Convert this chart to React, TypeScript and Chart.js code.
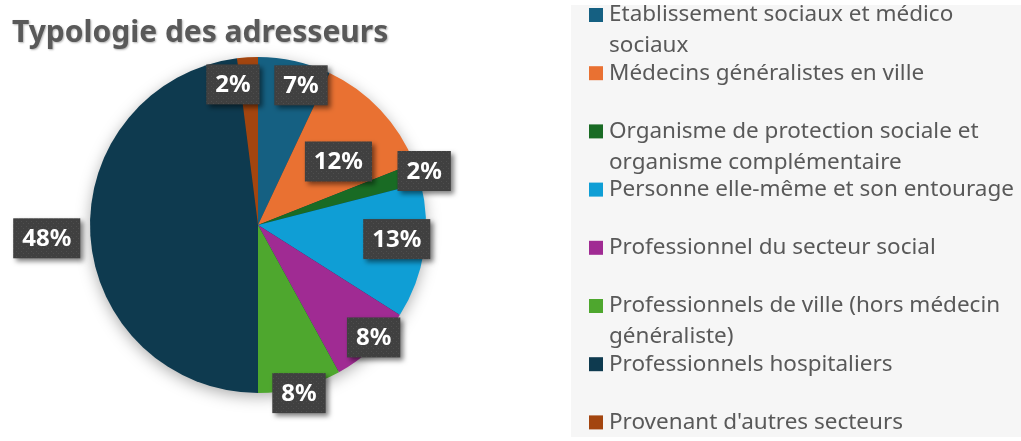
import React, { useEffect, useRef } from "react";
import { Chart, registerables } from "chart.js";

Chart.register(...registerables);

const titleText = "Typologie des adresseurs";

const categories = [
  "Etablissement sociaux et médico sociaux",
  "Médecins généralistes en ville",
  "Organisme de protection sociale et organisme complémentaire",
  "Personne elle-même et son entourage",
  "Professionnel du secteur social",
  "Professionnels de ville (hors médecin généraliste)",
  "Professionnels hospitaliers",
  "Provenant d'autres secteurs",
];

const values = [7, 12, 2, 13, 8, 8, 48, 2];

const colors = [
  "#156082",
  "#E97132",
  "#196B24",
  "#0F9ED5",
  "#A02B93",
  "#4EA72E",
  "#0E3A4F",
  "#A3450F",
];

// label placement: radius factor (of outer radius) and angular nudge in degrees
const labelRadius = [0.87, 0.61, 1.04, 0.83, 0.96, 1.03, 1.26, 0.85];
const labelNudge = [4.5, 4.9, 0, -3.2, -2.6, 0.7, 0, -6.5];

const FONT = '"Noto Sans", "Open Sans", "DejaVu Sans", sans-serif';

function makePattern(ctx: CanvasRenderingContext2D) {
  const c = document.createElement("canvas");
  c.width = 5;
  c.height = 5;
  const g = c.getContext("2d")!;
  g.fillStyle = "#404040";
  g.fillRect(0, 0, 5, 5);
  g.fillStyle = "#4e4e4e";
  g.fillRect(1, 1, 1, 1);
  g.fillRect(3, 3, 1, 1);
  return ctx.createPattern(c, "repeat");
}

const shadowPlugin = {
  id: "pieShadow",
  beforeDatasetsDraw(chart: any) {
    const meta = chart.getDatasetMeta(0);
    const arc = meta.data[0];
    if (!arc) return;
    const p = arc.getProps(["x", "y", "outerRadius"], true);
    const ctx = chart.ctx;
    ctx.save();
    ctx.shadowColor = "rgba(0,0,0,0.35)";
    ctx.shadowBlur = 16;
    ctx.shadowOffsetX = 0;
    ctx.shadowOffsetY = 4;
    ctx.fillStyle = "#0E3A4F";
    ctx.beginPath();
    ctx.arc(p.x, p.y, p.outerRadius - 1, 0, Math.PI * 2);
    ctx.fill();
    ctx.restore();
  },
};

const titlePlugin = {
  id: "leftTitle",
  afterDraw(chart: any) {
    const ctx = chart.ctx;
    ctx.save();
    ctx.font = `bold 30px ${FONT}`;
    ctx.fillStyle = "#595959";
    ctx.textBaseline = "alphabetic";
    ctx.textAlign = "left";
    ctx.shadowColor = "rgba(0,0,0,0.3)";
    ctx.shadowBlur = 2;
    ctx.shadowOffsetX = 1;
    ctx.shadowOffsetY = 1;
    ctx.fillText(titleText, 12, 42);
    ctx.restore();
  },
};

const labelPlugin = {
  id: "boxLabels",
  afterDatasetsDraw(chart: any) {
    const ctx = chart.ctx;
    const meta = chart.getDatasetMeta(0);
    const data = chart.data.datasets[0].data as number[];
    const total = data.reduce((a, b) => a + b, 0);
    const pattern = makePattern(ctx);
    ctx.save();
    ctx.font = `bold 24px ${FONT}`;
    meta.data.forEach((arc: any, i: number) => {
      const p = arc.getProps(["x", "y", "startAngle", "endAngle", "outerRadius"], true);
      const mid = (p.startAngle + p.endAngle) / 2 + (labelNudge[i] * Math.PI) / 180;
      const r = p.outerRadius * labelRadius[i];
      const cx = p.x + r * Math.cos(mid);
      const cy = p.y + r * Math.sin(mid);
      const txt = Math.round((data[i] / total) * 100) + "%";
      const w = ctx.measureText(txt).width + 18;
      const h = 40;
      ctx.save();
      ctx.shadowColor = "rgba(0,0,0,0.5)";
      ctx.shadowBlur = 5;
      ctx.shadowOffsetX = 3;
      ctx.shadowOffsetY = 3;
      ctx.fillStyle = pattern || "#404040";
      ctx.fillRect(cx - w / 2, cy - h / 2, w, h);
      ctx.restore();
      ctx.fillStyle = "#ffffff";
      ctx.textAlign = "center";
      ctx.textBaseline = "middle";
      ctx.fillText(txt, cx, cy + 1);
    });
    ctx.restore();
  },
};

function wrap(ctx: CanvasRenderingContext2D, text: string, maxW: number) {
  const words = text.split(" ");
  const lines: string[] = [];
  let cur = "";
  for (const w of words) {
    const t = cur ? cur + " " + w : w;
    if (ctx.measureText(t).width > maxW && cur) {
      lines.push(cur);
      cur = w;
    } else cur = t;
  }
  if (cur) lines.push(cur);
  return lines;
}

const legendPlugin = {
  id: "sideLegend",
  afterDraw(chart: any) {
    const ctx = chart.ctx;
    const labels = chart.data.labels as string[];
    const bg = chart.data.datasets[0].backgroundColor as string[];
    ctx.save();
    ctx.fillStyle = "#f6f6f6";
    ctx.fillRect(571, 5, chart.width - 571, 432);
    ctx.font = `22.5px ${FONT}`;
    ctx.textBaseline = "middle";
    ctx.textAlign = "left";
    const slot = 58.2;
    labels.forEach((lab, i) => {
      const y0 = 15 + i * slot;
      ctx.fillStyle = bg[i];
      ctx.fillRect(589, y0 - 7, 14, 14);
      ctx.fillStyle = "#595959";
      const lines = wrap(ctx, lab, 408);
      lines.forEach((ln, k) => ctx.fillText(ln, 609, y0 + k * 31));
    });
    ctx.restore();
  },
};

export default function App() {
  const ref = useRef<HTMLCanvasElement | null>(null);
  useEffect(() => {
    document.body.style.margin = "0";
    const canvas = ref.current!;
    const chart = new Chart(canvas, {
      type: "pie",
      data: {
        labels: categories,
        datasets: [
          {
            data: values,
            backgroundColor: colors,
            borderWidth: 0,
          },
        ],
      },
      options: {
        responsive: false,
        animation: false,
        devicePixelRatio: 1,
        layout: { padding: { left: 90, top: 57, right: 595, bottom: 48 } },
        plugins: {
          legend: { display: false },
          tooltip: { enabled: false },
          title: { display: false },
        },
      },
      plugins: [shadowPlugin, labelPlugin, legendPlugin, titlePlugin],
    });
    return () => chart.destroy();
  }, []);
  return (
    <div style={{ width: 1021, height: 441, background: "#ffffff" }}>
      <canvas ref={ref} width={1021} height={441} style={{ display: "block" }} />
    </div>
  );
}
